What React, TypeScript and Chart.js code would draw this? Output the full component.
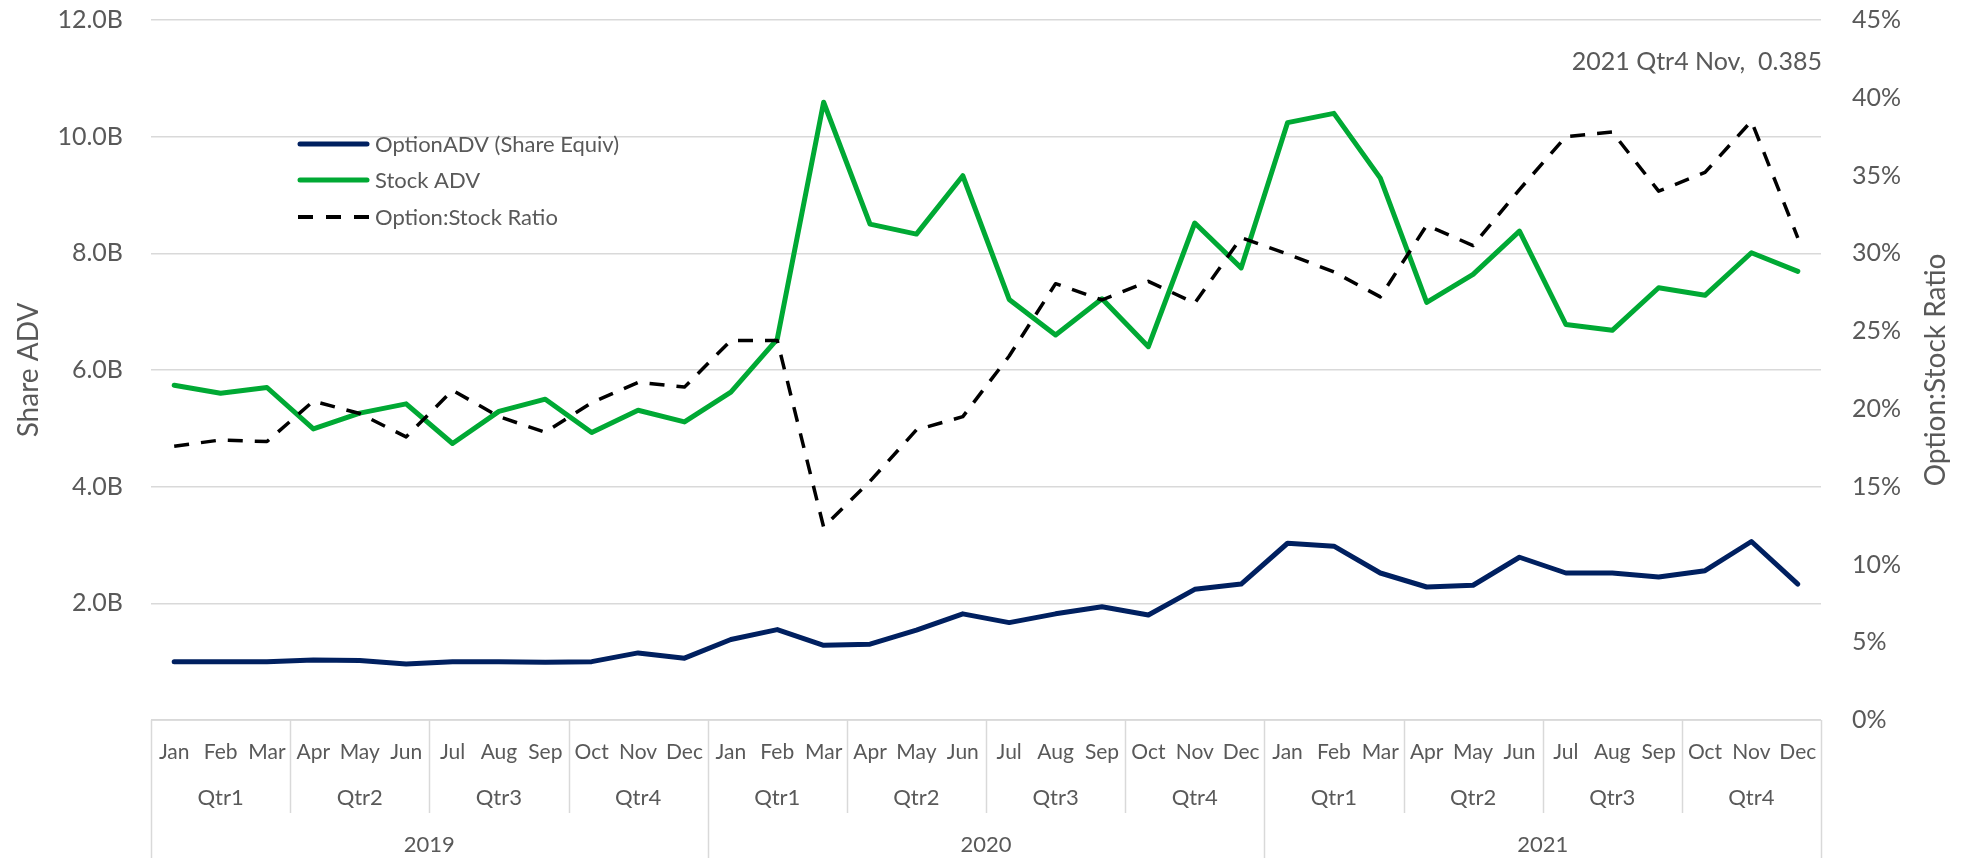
import React, { useEffect, useRef } from 'react';
import { Chart, registerables } from 'chart.js';

Chart.register(...registerables);

// ---------- data ----------
const months = ['Jan', 'Feb', 'Mar', 'Apr', 'May', 'Jun', 'Jul', 'Aug', 'Sep', 'Oct', 'Nov', 'Dec'];
const quarters = ['Qtr1', 'Qtr2', 'Qtr3', 'Qtr4'];
const years = ['2019', '2020', '2021'];

// billions of shares
const optionADV = [
  1.00, 1.00, 1.00, 1.03, 1.02, 0.96, 1.00, 1.00, 0.99, 1.00, 1.15, 1.06,
  1.38, 1.55, 1.28, 1.30, 1.54, 1.82, 1.67, 1.82, 1.94, 1.80, 2.24, 2.33,
  3.03, 2.98, 2.52, 2.28, 2.31, 2.79, 2.52, 2.52, 2.45, 2.56, 3.06, 2.33,
];
const stockADV = [
  5.74, 5.60, 5.70, 4.99, 5.26, 5.42, 4.74, 5.29, 5.50, 4.93, 5.31, 5.11,
  5.62, 6.53, 10.59, 8.50, 8.33, 9.33, 7.21, 6.60, 7.22, 6.40, 8.52, 7.75,
  10.24, 10.40, 9.29, 7.16, 7.64, 8.38, 6.78, 6.68, 7.41, 7.28, 8.01, 7.69,
];
const optionStockRatio = [
  0.176, 0.180, 0.179, 0.205, 0.197, 0.182, 0.212, 0.195, 0.185, 0.204, 0.217, 0.214,
  0.244, 0.244, 0.124, 0.1535, 0.1865, 0.195, 0.234, 0.2805, 0.270, 0.282, 0.268, 0.310,
  0.2996, 0.288, 0.272, 0.318, 0.305, 0.341, 0.375, 0.378, 0.340, 0.352, 0.385, 0.310,
];
const seriesNames = ['OptionADV (Share Equiv)', 'Stock ADV', 'Option:Stock Ratio'];
const leftAxisMax = 12;
const leftAxisStep = 2;
const rightAxisMax = 0.45;
const rightAxisStep = 0.05;
const labelledPointIndex = 34;

const categoryLabels = years.flatMap(() => months.map((m) => m));

const TEXT = '#595959';
const GRID = '#d9d9d9';
const NAVY = '#002060';
const GREEN = '#00A934';
const FONT = 'Lato, "Open Sans", sans-serif';

const hierAxisPlugin = {
  id: 'hierAxis',
  afterDraw(chart: any) {
    const { ctx, chartArea } = chart;
    const xs = chart.scales.x;
    const n = categoryLabels.length;
    const left = chartArea.left;
    const right = chartArea.right;
    const w = (right - left) / n;
    const top = chartArea.bottom;
    const H = chart.height;
    ctx.save();
    ctx.strokeStyle = GRID;
    ctx.lineWidth = 1.5;
    const line = (x1: number, y1: number, x2: number, y2: number) => {
      ctx.beginPath();
      ctx.moveTo(x1, y1);
      ctx.lineTo(x2, y2);
      ctx.stroke();
    };
    line(left, top, right, top);
    for (let i = 0; i <= n; i += 3) {
      const px = Math.round(left + i * w) + 0.5;
      const isYear = i % 12 === 0;
      line(px, top, px, isYear ? H : top + 93);
    }
    ctx.fillStyle = TEXT;
    ctx.textAlign = 'center';
    ctx.textBaseline = 'middle';
    ctx.font = `21px ${FONT}`;
    categoryLabels.forEach((m, i) => {
      ctx.fillText(m, xs.getPixelForValue(i), top + 32);
    });
    ctx.font = `22px ${FONT}`;
    years.forEach((y, yi) => {
      quarters.forEach((q, qi) => {
        const a = yi * 12 + qi * 3;
        const cx = (xs.getPixelForValue(a) + xs.getPixelForValue(a + 2)) / 2;
        ctx.fillText(q, cx, top + 78);
      });
      const cy = (xs.getPixelForValue(yi * 12) + xs.getPixelForValue(yi * 12 + 11)) / 2;
      ctx.fillText(y, cy, top + 125);
    });
    ctx.restore();
  },
};

const extrasPlugin = {
  id: 'extras',
  afterDraw(chart: any) {
    const { ctx, chartArea } = chart;
    ctx.save();
    // legend
    const styles = [
      { color: NAVY, width: 5, dash: [] as number[] },
      { color: GREEN, width: 5, dash: [] as number[] },
      { color: '#000000', width: 4, dash: [15, 13] },
    ];
    const lx = chartArea.left + 147;
    const rows = [144, 180, 217];
    ctx.font = `22px ${FONT}`;
    ctx.textBaseline = 'middle';
    ctx.textAlign = 'left';
    chart.data.datasets.forEach((ds: any, i: number) => {
      const st = styles[i];
      ctx.beginPath();
      ctx.strokeStyle = st.color;
      ctx.lineWidth = st.width;
      ctx.lineCap = st.dash.length ? 'butt' : 'round';
      ctx.setLineDash(st.dash);
      ctx.moveTo(lx + (st.dash.length ? 0 : 2), rows[i]);
      ctx.lineTo(lx + 71 - (st.dash.length ? 0 : 2), rows[i]);
      ctx.stroke();
      ctx.setLineDash([]);
      ctx.fillStyle = TEXT;
      ctx.fillText(ds.label, lx + 77, rows[i] + 1);
    });

    // data label
    const meta = chart.getDatasetMeta(2);
    const pt = meta.data[labelledPointIndex];
    if (pt) {
      const yi = Math.floor(labelledPointIndex / 12);
      const qi = Math.floor((labelledPointIndex % 12) / 3);
      const txt = `${years[yi]} ${quarters[qi]} ${months[labelledPointIndex % 12]},  ${optionStockRatio[labelledPointIndex]}`;
      ctx.font = `25px ${FONT}`;
      ctx.textAlign = 'right';
      ctx.fillStyle = TEXT;
      ctx.fillText(txt, chartArea.right + 1, pt.y - 59);
    }

    // right axis title (reads bottom to top)
    ctx.translate(1936, (chartArea.top + chartArea.bottom) / 2);
    ctx.rotate(-Math.PI / 2);
    ctx.font = `28px ${FONT}`;
    ctx.textAlign = 'center';
    ctx.fillStyle = TEXT;
    ctx.fillText(seriesNames[2], 0, 0);
    ctx.restore();
  },
};

export default function App() {
  const ref = useRef<HTMLCanvasElement | null>(null);
  useEffect(() => {
    if (!ref.current) return;
    Chart.defaults.font.family = FONT;
    const chart = new Chart(ref.current, {
      type: 'line',
      data: {
        labels: categoryLabels,
        datasets: [
          {
            label: seriesNames[0],
            data: optionADV,
            yAxisID: 'y',
            borderColor: NAVY,
            backgroundColor: NAVY,
            borderWidth: 5,
            pointRadius: 0,
            borderJoinStyle: 'round',
            borderCapStyle: 'round',
            tension: 0,
            order: 2,
          },
          {
            label: seriesNames[1],
            data: stockADV,
            yAxisID: 'y',
            borderColor: GREEN,
            backgroundColor: GREEN,
            borderWidth: 5,
            pointRadius: 0,
            borderJoinStyle: 'round',
            borderCapStyle: 'round',
            tension: 0,
            order: 1,
          },
          {
            label: seriesNames[2],
            data: optionStockRatio,
            yAxisID: 'y1',
            borderColor: '#000000',
            backgroundColor: '#000000',
            borderWidth: 3.5,
            borderDash: [15, 12],
            pointRadius: 0,
            borderJoinStyle: 'round',
            tension: 0,
            order: 0,
          },
        ],
      },
      options: {
        responsive: false,
        maintainAspectRatio: false,
        animation: false,
        layout: { padding: { top: 20, left: 0, right: 0, bottom: 0 } },
        plugins: {
          legend: { display: false },
          tooltip: { enabled: false },
        },
        scales: {
          x: {
            type: 'category',
            offset: true,
            grid: { display: false },
            border: { display: false },
            ticks: { display: false },
            afterFit: (s: any) => {
              s.height = 138;
            },
          },
          y: {
            type: 'linear',
            position: 'left',
            min: 0,
            max: leftAxisMax,
            ticks: {
              stepSize: leftAxisStep,
              padding: 28,
              color: TEXT,
              font: { size: 25, family: FONT },
              callback: (v: any) => (Number(v) === 0 ? '' : `${Number(v).toFixed(1)}B`),
            },
            grid: { color: GRID, lineWidth: 1.5, drawTicks: false },
            border: { display: false },
            title: {
              display: true,
              text: 'Share ADV',
              color: TEXT,
              font: { size: 28, family: FONT },
              padding: { top: 12, bottom: 0 },
            },
            afterFit: (s: any) => {
              s.width = 151;
              s.paddingTop = 0;
              s.paddingBottom = 0;
            },
          },
          y1: {
            type: 'linear',
            position: 'right',
            min: 0,
            max: rightAxisMax,
            ticks: {
              stepSize: rightAxisStep,
              padding: 31,
              color: TEXT,
              font: { size: 25, family: FONT },
              callback: (v: any) => `${Math.round(Number(v) * 100)}%`,
            },
            grid: { drawOnChartArea: false, drawTicks: false },
            border: { display: false },
            afterFit: (s: any) => {
              s.width = 141;
              s.paddingTop = 0;
              s.paddingBottom = 0;
            },
          },
        },
      },
      plugins: [hierAxisPlugin, extrasPlugin],
    } as any);
    return () => chart.destroy();
  }, []);
  return (
    <div style={{ position: 'fixed', left: 0, top: 0, width: 1962, height: 858, background: '#ffffff' }}>
      <canvas ref={ref} width={1962} height={858} style={{ width: 1962, height: 858, display: 'block' }} />
    </div>
  );
}
